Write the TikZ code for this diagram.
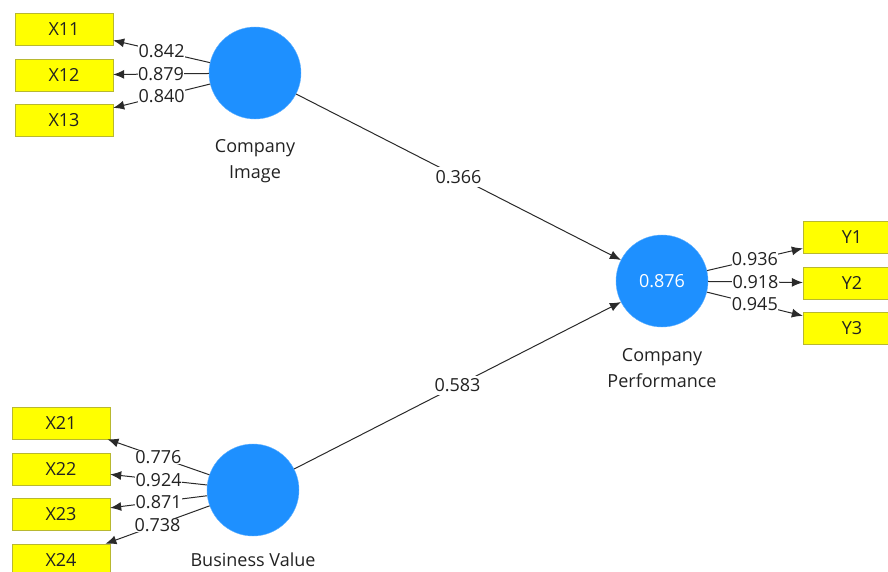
\documentclass[tikz,border=0pt]{standalone}
\usepackage{fontspec}
\setmainfont{Open Sans}
\usetikzlibrary{arrows.meta}
\definecolor{lvblue}{HTML}{1E90FF}
\definecolor{mvyel}{HTML}{FFFF00}
\definecolor{mvborder}{HTML}{B8B830}
\definecolor{lineg}{HTML}{2A2A2A}
\definecolor{txt}{HTML}{222222}
\tikzset{
  latent/.style={circle,fill=lvblue,draw=lvblue!70,minimum size=92pt,inner sep=0pt,text=white,font=\fontsize{18}{20}\selectfont},
  manifest/.style={rectangle,fill=mvyel,draw=mvborder,minimum width=98pt,minimum height=32pt,inner sep=0pt,text=txt,font=\fontsize{18}{20}\selectfont},
  lvlabel/.style={align=center,text=txt,font=\fontsize{18}{26}\selectfont},
  conn/.style={draw=lineg,line width=1pt,-{Latex[length=11pt,width=9pt]}},
  coef/.style={fill=white,inner sep=0.4pt,text=txt,font=\fontsize{18}{20}\selectfont},
}
\begin{document}
\begin{tikzpicture}[x=1pt,y=-1pt]
\useasboundingbox (0,0) rectangle (888,571);
\clip (0,0) rectangle (888,571);
% latent variables
\node[latent] (ci) at (255,73) {};
\node[latent] (bv) at (253,490) {};
\node[latent] (cp) at (662,281) {0.876};
\node[lvlabel] (cil) at (255,161) {Company\\Image};
\node[lvlabel] (bvl) at (253,560) {Business Value};
\node[lvlabel] (cpl) at (662,368) {Company\\Performance};
% manifest variables
\node[manifest] (x11) at (64,29) {X11};
\node[manifest] (x12) at (64,75) {X12};
\node[manifest] (x13) at (64,120) {X13};
\node[manifest] (x21) at (61,423) {X21};
\node[manifest] (x22) at (61,469) {X22};
\node[manifest] (x23) at (61,514) {X23};
\node[manifest] (x24) at (61,560) {X24};
\node[manifest] (y1) at (852,237) {Y1};
\node[manifest] (y2) at (852,283) {Y2};
\node[manifest] (y3) at (852,328) {Y3};
% outer loadings
\draw[conn] (ci) -- node[coef,pos=0.5] {0.842} (x11);
\draw[conn] (ci) -- node[coef,pos=0.5] {0.879} (x12);
\draw[conn] (ci) -- node[coef,pos=0.5] {0.840} (x13);
\draw[conn] (bv) -- node[coef,pos=0.5] {0.776} (x21);
\draw[conn] (bv) -- node[coef,pos=0.5] {0.924} (x22);
\draw[conn] (bv) -- node[coef,pos=0.5] {0.871} (x23);
\draw[conn] (bv) -- node[coef,pos=0.5] {0.738} (x24);
\draw[conn] (cp) -- node[coef,pos=0.5] {0.936} (y1);
\draw[conn] (cp) -- node[coef,pos=0.5] {0.918} (y2);
\draw[conn] (cp) -- node[coef,pos=0.5] {0.945} (y3);
% path coefficients
\draw[conn] (ci) -- node[coef,pos=0.5,inner sep=3pt] {0.366} (cp);
\draw[conn] (bv) -- node[coef,pos=0.5,inner sep=3pt] {0.583} (cp);
\end{tikzpicture}
\end{document}
